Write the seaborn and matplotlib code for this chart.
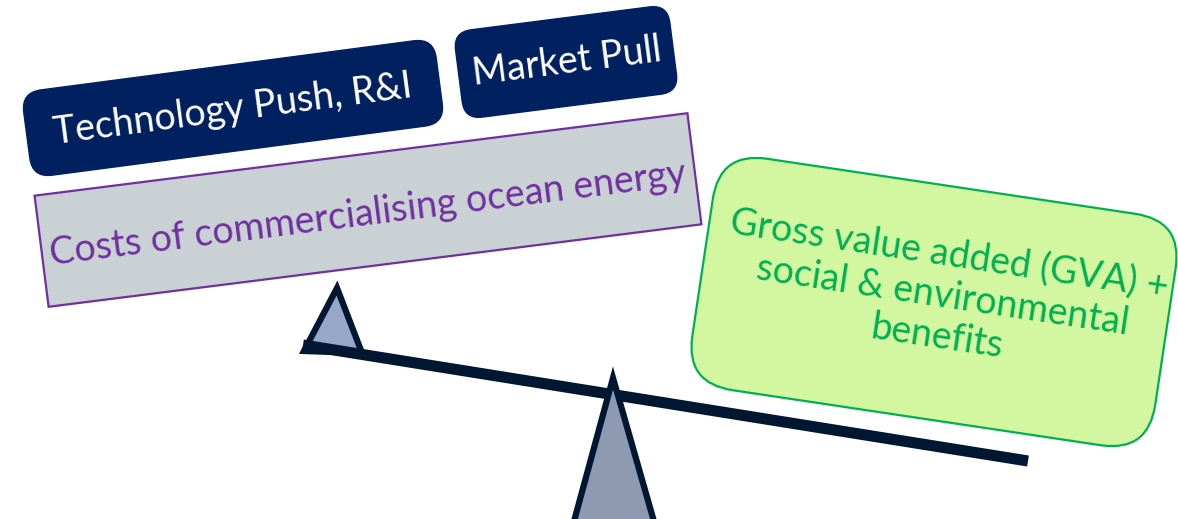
import matplotlib
matplotlib.use("Agg")
import matplotlib.pyplot as plt
import seaborn as sns
from matplotlib.patches import FancyBboxPatch, Polygon
from matplotlib.transforms import Affine2D

sns.set_theme(style="white")
plt.rcParams['font.family'] = ['Lato', 'DejaVu Sans']

# ---- content ----
driver_labels = ["Technology Push, R&I", "Market Pull"]
cost_label = "Costs of commercialising ocean energy"
benefit_label = "Gross value added (GVA) +\nsocial & environmental\nbenefits"

# ---- colours ----
navy = "#002060"
purple = "#7030A0"
grey_fill = "#CAD1D4"
green_fill = "#D2F7A0"
green = "#00B050"
beam_col = "#001631"
small_tri_fill = "#96A7C9"
big_tri_fill = "#8E9AB1"

W, H = 1178, 519
fig = plt.figure(figsize=(W / 100, H / 100), dpi=100)
ax = fig.add_axes([0, 0, 1, 1])
ax.set_xlim(0, W)
ax.set_ylim(0, H)
ax.axis("off")


def py(y):
    return H - y


def rbox(cx, cy, w, h, ang, fc, ec, lw, rad, z):
    p = FancyBboxPatch((cx - w / 2, py(cy) - h / 2), w, h,
                       boxstyle=f"round,pad=0,rounding_size={rad}" if rad else "square,pad=0",
                       fc=fc, ec=ec, lw=lw, zorder=z)
    p.set_transform(Affine2D().rotate_deg_around(cx, py(cy), ang) + ax.transData)
    ax.add_patch(p)


# grey cost box
rbox(368, 210, 658, 112, 7.2, grey_fill, purple, 1.6, 0, 1)
ax.text(368, py(214), cost_label, rotation=7.2, ha="center", va="center",
        color=purple, fontsize=27, rotation_mode="anchor", zorder=5)

# navy driver boxes
rbox(233, 108, 416, 86, 7.5, navy, navy, 1, 20, 2)
ax.text(233, py(110), driver_labels[0], rotation=7.5, ha="center", va="center",
        color="white", fontsize=27, rotation_mode="anchor", zorder=5)
rbox(566, 62, 216, 88, 7.3, navy, navy, 1, 18, 2)
ax.text(567, py(62), driver_labels[1], rotation=7.3, ha="center", va="center",
        color="white", fontsize=27, rotation_mode="anchor", zorder=5)

# green benefit box
rbox(934, 302, 468, 234, -8.5, green_fill, green, 1.6, 48, 1)
ax.text(943, py(296), benefit_label, rotation=-8.5, ha="center", va="center",
        color=green, fontsize=27, rotation_mode="anchor", linespacing=1.2,
        multialignment="center", zorder=5)

# small triangle (behind beam)
ax.add_patch(Polygon([(337, py(288)), (304, py(351)), (362, py(353))], closed=True,
                     fc=small_tri_fill, ec=beam_col, lw=4.5, joinstyle="miter", zorder=3))
# beam
ax.plot([303, 1028], [py(345), py(461)], color=beam_col, lw=8, solid_capstyle="butt", zorder=4)
# fulcrum
ax.add_patch(Polygon([(613, py(378)), (573, py(525)), (655, py(525))], closed=True,
                     fc=big_tri_fill, ec=beam_col, lw=4.5, joinstyle="miter", zorder=4))

fig.savefig("out.png", dpi=100)
